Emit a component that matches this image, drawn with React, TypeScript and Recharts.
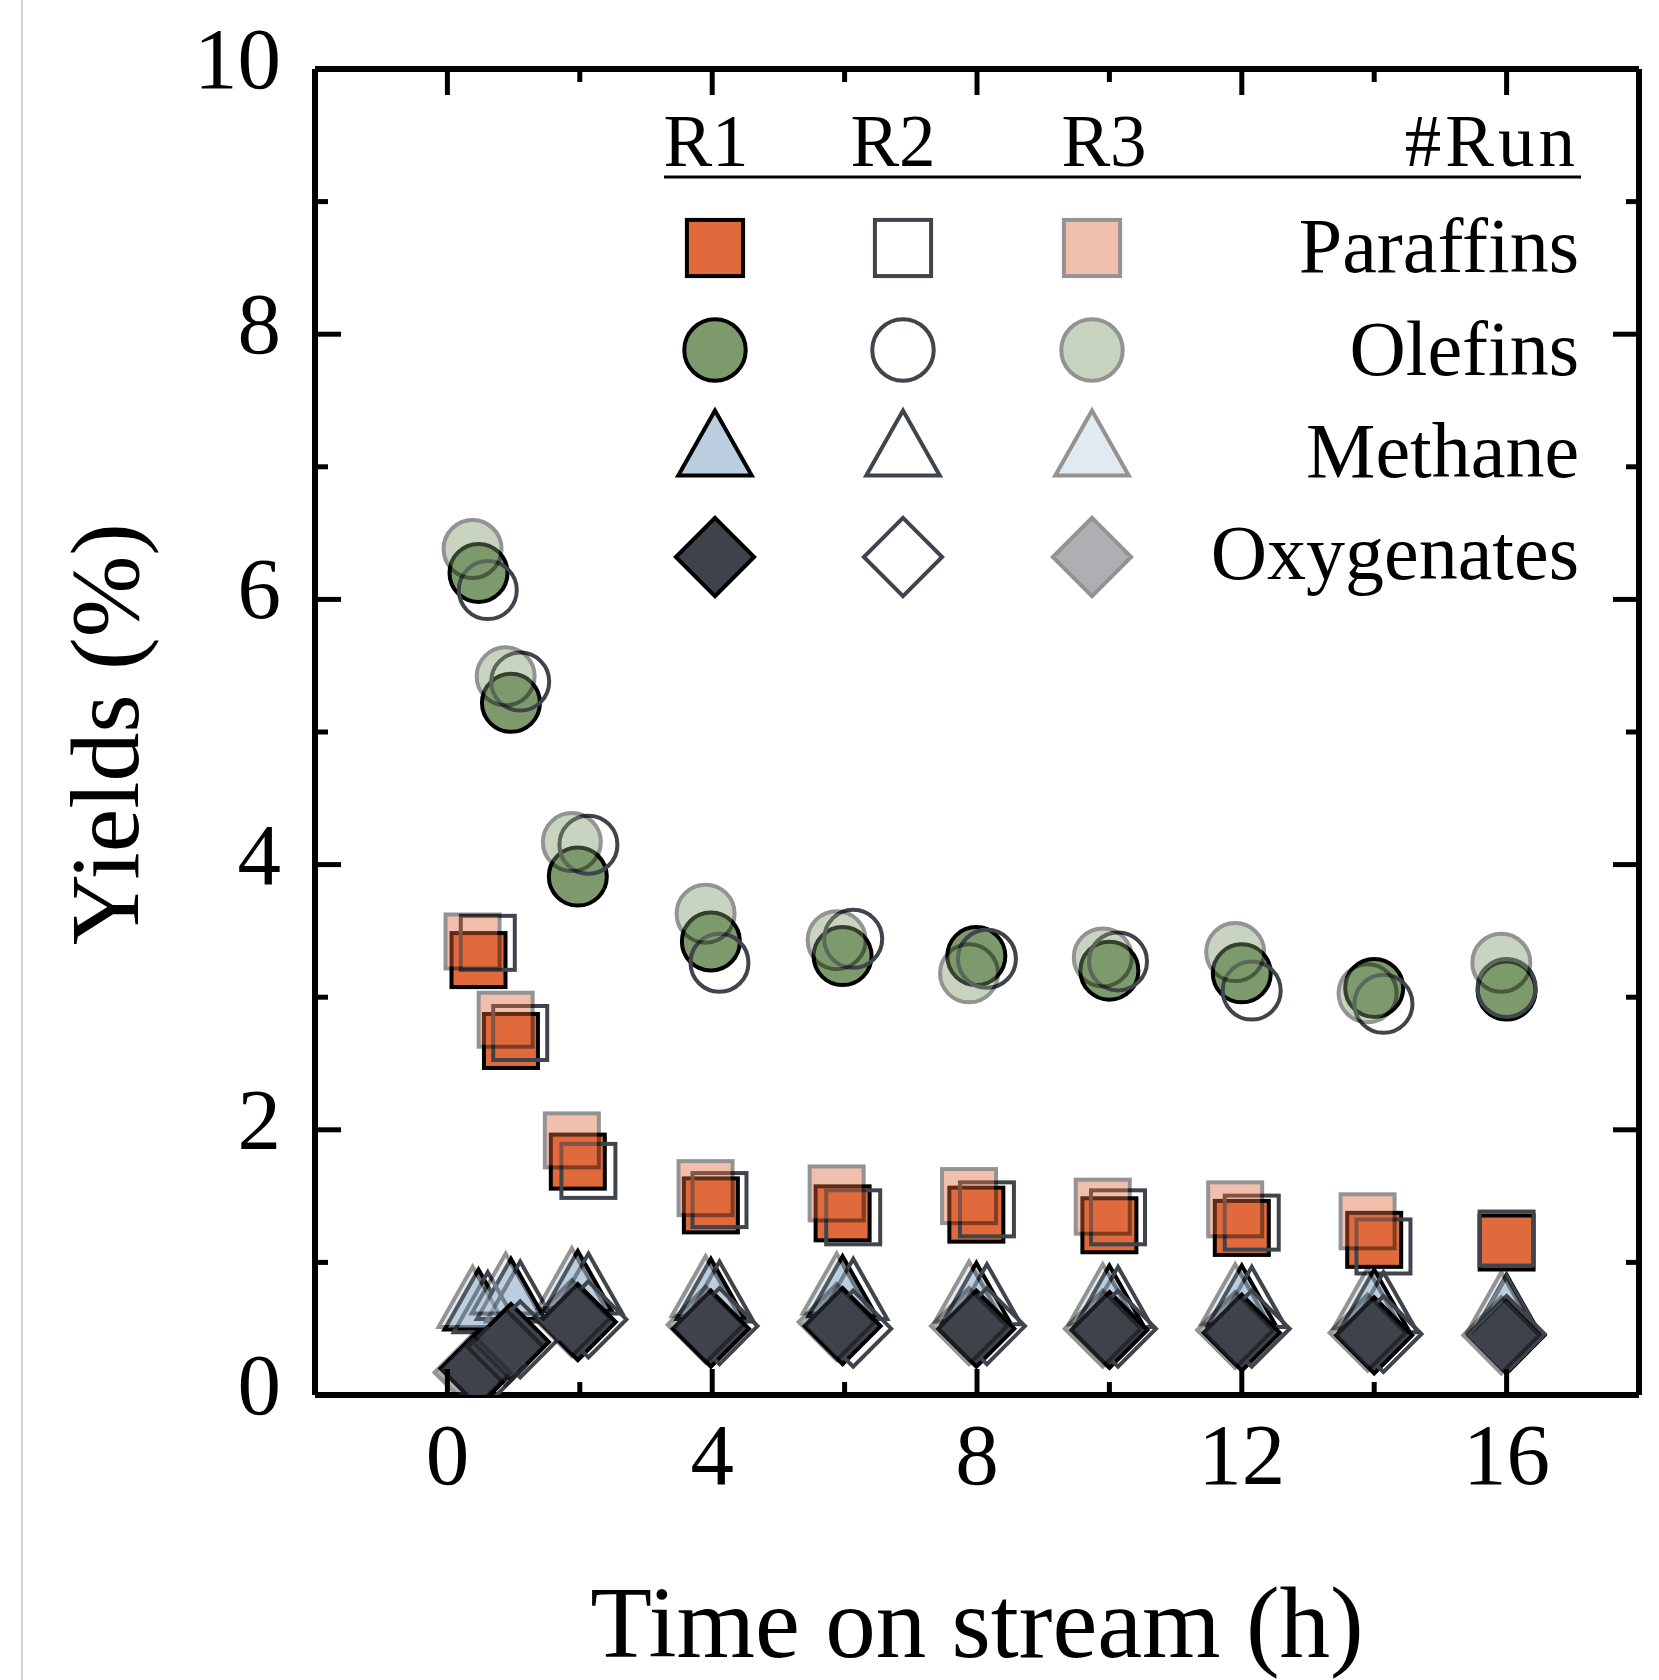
import React from 'react';
import { ScatterChart, Scatter, XAxis, YAxis } from 'recharts';

// ---------- data ----------
const xTicks = [0, 2, 4, 6, 8, 10, 12, 14, 16];
const xMajor = [0, 4, 8, 12, 16];
const yTicks = [0, 1, 2, 3, 4, 5, 6, 7, 8, 9, 10];
const yMajor = [0, 2, 4, 6, 8, 10];

const runs = ['R1', 'R2', 'R3'];
const species = ['Paraffins', 'Olefins', 'Methane', 'Oxygenates'];

const timeR1 = [0.47, 0.96, 1.97, 3.98, 5.97, 7.99, 10.0, 12.0, 14.0, 16.0];
const timeR2 = [0.61, 1.1, 2.13, 4.11, 6.13, 8.15, 10.13, 12.15, 14.14, 16.0];
const timeR3 = [0.38, 0.88, 1.88, 3.9, 5.88, 7.88, 9.9, 11.9, 13.9, 15.92];

const olefinsR1 = [6.2, 5.22, 3.91, 3.42, 3.31, 3.31, 3.2, 3.18, 3.07, 3.05];
const olefinsR2 = [6.07, 5.38, 4.15, 3.26, 3.44, 3.29, 3.27, 3.05, 2.95, 3.07];
const olefinsR3 = [6.38, 5.42, 4.17, 3.63, 3.43, 3.18, 3.3, 3.34, 3.03, 3.26];

const paraffinsR1 = [3.28, 2.67, 1.76, 1.43, 1.37, 1.36, 1.28, 1.26, 1.17, 1.15];
const paraffinsR2 = [3.41, 2.73, 1.69, 1.47, 1.34, 1.4, 1.34, 1.3, 1.12, 1.18];
const paraffinsR3 = [3.42, 2.83, 1.92, 1.56, 1.52, 1.5, 1.42, 1.4, 1.31, null];

const methaneR1 = [0.72, 0.8, 0.86, 0.8, 0.82, 0.77, 0.75, 0.75, 0.72, 0.68];
const methaneR2 = [0.7, 0.78, 0.84, 0.78, 0.8, 0.76, 0.74, 0.74, 0.7, 0.67];
const methaneR3 = [0.74, 0.84, 0.88, 0.82, 0.84, 0.78, 0.76, 0.76, 0.73, 0.7];

const oxygenatesR1 = [0.2, 0.4, 0.55, 0.5, 0.52, 0.5, 0.49, 0.47, 0.45, 0.45];
const oxygenatesR2 = [0.22, 0.42, 0.57, 0.52, 0.5, 0.52, 0.5, 0.5, 0.46, 0.46];
const oxygenatesR3 = [0.17, 0.36, 0.58, 0.53, 0.55, 0.52, 0.5, 0.49, 0.47, 0.45];

// ---------- layout / style ----------
const W = 1659;
const H = 1680;
const PL = 315;
const PT = 69;
const PR = 1639;
const PB = 1395;
const FONT = '"Liberation Serif", "Times New Roman", serif';

const speciesColor: Record<string, string> = {
  Paraffins: '#E06A3C',
  Olefins: '#7D9A6C',
  Methane: '#BACEE0',
  Oxygenates: '#3E434B',
};
const speciesKind: Record<string, string> = {
  Paraffins: 'square',
  Olefins: 'circle',
  Methane: 'triangle',
  Oxygenates: 'diamond',
};
const OPEN_STROKE = '#40454D';
const R3_OPACITY = 0.42;

function runStyle(run: string, sp: string) {
  const c = speciesColor[sp];
  if (run === 'R1') return { fill: c, stroke: '#000', opacity: 1, sw: 4 };
  if (run === 'R2') return { fill: 'none', stroke: OPEN_STROKE, opacity: 1, sw: 4 };
  return { fill: c, stroke: '#000', opacity: R3_OPACITY, sw: 4 };
}

type MarkProps = {
  cx: number;
  cy: number;
  kind: string;
  fill: string;
  stroke: string;
  sw: number;
  opacity: number;
  scale?: number;
};

function Mark({ cx, cy, kind, fill, stroke, sw, opacity, scale = 1 }: MarkProps) {
  if (cx == null || cy == null) return null;
  const common = { fill, stroke, strokeWidth: sw, opacity, strokeLinejoin: 'miter' as const };
  if (kind === 'square') {
    const s = 54 * scale;
    return <rect x={cx - s / 2} y={cy - s / 2} width={s} height={s} {...common} />;
  }
  if (kind === 'circle') {
    const r = 29 * scale;
    return <circle cx={cx} cy={cy} r={r} {...common} />;
  }
  if (kind === 'triangle') {
    const w = 68 * scale;
    const h = 60 * scale;
    const pts = `${cx},${cy - h / 2} ${cx - w / 2},${cy + h / 2} ${cx + w / 2},${cy + h / 2}`;
    return <polygon points={pts} {...common} />;
  }
  const d = 38 * scale;
  const pts = `${cx},${cy - d} ${cx + d},${cy} ${cx},${cy + d} ${cx - d},${cy}`;
  return <polygon points={pts} {...common} />;
}

const timeByRun: Record<string, number[]> = { R1: timeR1, R2: timeR2, R3: timeR3 };
const valuesBy: Record<string, Record<string, (number | null)[]>> = {
  Paraffins: { R1: paraffinsR1, R2: paraffinsR2, R3: paraffinsR3 },
  Olefins: { R1: olefinsR1, R2: olefinsR2, R3: olefinsR3 },
  Methane: { R1: methaneR1, R2: methaneR2, R3: methaneR3 },
  Oxygenates: { R1: oxygenatesR1, R2: oxygenatesR2, R3: oxygenatesR3 },
};

const drawOrder = ['Olefins', 'Paraffins', 'Methane', 'Oxygenates'];

function buildPoints(sp: string, run: string) {
  const t = timeByRun[run];
  const v = valuesBy[sp][run];
  const out: { x: number; y: number }[] = [];
  v.forEach((y, i) => {
    if (y != null) out.push({ x: t[i], y });
  });
  return out;
}

// ---------- ticks ----------
const MAJ = 26;
const MIN = 13;
const TW = 5;

function BottomTick(props: any) {
  const { x, payload } = props;
  const v = payload.value;
  const major = xMajor.includes(v);
  return (
    <g>
      <line x1={x} x2={x} y1={PB} y2={PB - (major ? MAJ : MIN)} stroke="#000" strokeWidth={TW} />
      {major && (
        <text x={x} y={1484} textAnchor="middle" fontFamily={FONT} fontSize={87} fill="#000">
          {v}
        </text>
      )}
    </g>
  );
}
function TopTick(props: any) {
  const { x, payload } = props;
  const major = xMajor.includes(payload.value);
  return <line x1={x} x2={x} y1={PT} y2={PT + (major ? MAJ : MIN)} stroke="#000" strokeWidth={TW} />;
}
function LeftTick(props: any) {
  const { y, payload } = props;
  const v = payload.value;
  const major = yMajor.includes(v);
  return (
    <g>
      <line x1={PL} x2={PL + (major ? MAJ : MIN)} y1={y} y2={y} stroke="#000" strokeWidth={TW} />
      {major && (
        <text x={281} y={y + 19} textAnchor="end" fontFamily={FONT} fontSize={87} fill="#000">
          {v}
        </text>
      )}
    </g>
  );
}
function RightTick(props: any) {
  const { y, payload } = props;
  const major = yMajor.includes(payload.value);
  return <line x1={PR} x2={PR - (major ? MAJ : MIN)} y1={y} y2={y} stroke="#000" strokeWidth={TW} />;
}

function XTitle() {
  return (
    <text x={977} y={1657} textAnchor="middle" fontFamily={FONT} fontSize={101} fill="#000">
      Time on stream (h)
    </text>
  );
}
function YTitle() {
  return (
    <text
      x={138}
      y={734}
      textAnchor="middle"
      fontFamily={FONT}
      fontSize={98}
      fill="#000"
      transform="rotate(-90, 138, 734)"
    >
      Yields (%)
    </text>
  );
}

// ---------- legend table ----------
const legendColX: Record<string, number> = { R1: 715, R2: 903, R3: 1092 };
const legendHeadX: Record<string, number> = { R1: 706, R2: 893, R3: 1104 };
const legendRowY: Record<string, number> = { Paraffins: 248, Olefins: 350, Methane: 443, Oxygenates: 557 };
const legendTextY: Record<string, number> = { Paraffins: 272, Olefins: 375, Methane: 477, Oxygenates: 579 };
const legendScale: Record<string, number> = { Paraffins: 1.04, Olefins: 1.06, Methane: 1.08, Oxygenates: 1.03 };

function LegendTable() {
  return (
    <svg width={W} height={H} style={{ position: 'absolute', left: 0, top: 0, pointerEvents: 'none' }}>
      {runs.map((r) => (
        <text key={r} x={legendHeadX[r]} y={166} textAnchor="middle" fontFamily={FONT} fontSize={73} fill="#000">
          {r}
        </text>
      ))}
      <text x={1579} y={166} textAnchor="end" fontFamily={FONT} fontSize={73} fill="#000" letterSpacing={4}>
        #Run
      </text>
      <line x1={664} x2={1581} y1={177} y2={177} stroke="#000" strokeWidth={3} />
      {species.map((sp) => (
        <g key={sp}>
          {runs.map((r) => {
            const st = runStyle(r, sp);
            return (
              <Mark
                key={r}
                cx={legendColX[r]}
                cy={legendRowY[sp]}
                kind={speciesKind[sp]}
                fill={st.fill}
                stroke={st.stroke}
                sw={st.sw}
                opacity={st.opacity}
                scale={legendScale[sp]}
              />
            );
          })}
          <text x={1579} y={legendTextY[sp]} textAnchor="end" fontFamily={FONT} fontSize={78} fill="#000">
            {sp}
          </text>
        </g>
      ))}
    </svg>
  );
}

export default function App() {
  return (
    <div style={{ position: 'absolute', left: 0, top: 0, width: W, height: H, background: '#fff', overflow: 'hidden' }}>
      <div style={{ position: 'absolute', left: 21, top: 0, width: 2, height: H, background: '#d2d2d2' }} />
      <ScatterChart width={W} height={H} margin={{ top: 68, right: 19, bottom: 284, left: 0 }}>
        <XAxis
          xAxisId="b"
          type="number"
          dataKey="x"
          domain={[-2, 18]}
          ticks={xTicks}
          interval={0}
          height={1}
          tickLine={false}
          axisLine={{ stroke: '#000', strokeWidth: 6 }}
          tick={<BottomTick />}
          label={<XTitle />}
          allowDataOverflow
        />
        <XAxis
          xAxisId="t"
          orientation="top"
          type="number"
          dataKey="x"
          domain={[-2, 18]}
          ticks={xTicks}
          interval={0}
          height={1}
          tickLine={false}
          axisLine={{ stroke: '#000', strokeWidth: 6 }}
          tick={<TopTick />}
          allowDataOverflow
        />
        <YAxis
          yAxisId="l"
          type="number"
          dataKey="y"
          domain={[0, 10]}
          ticks={yTicks}
          interval={0}
          width={315}
          tickLine={false}
          axisLine={{ stroke: '#000', strokeWidth: 6 }}
          tick={<LeftTick />}
          label={<YTitle />}
          allowDataOverflow
        />
        <YAxis
          yAxisId="r"
          orientation="right"
          type="number"
          dataKey="y"
          domain={[0, 10]}
          ticks={yTicks}
          interval={0}
          width={1}
          tickLine={false}
          axisLine={{ stroke: '#000', strokeWidth: 6 }}
          tick={<RightTick />}
          allowDataOverflow
        />
        {drawOrder.map((sp) =>
          runs.map((r) => {
            const st = runStyle(r, sp);
            return (
              <Scatter
                key={`${sp}-${r}`}
                name={`${sp} ${r}`}
                data={buildPoints(sp, r)}
                xAxisId="b"
                yAxisId="l"
                isAnimationActive={false}
                shape={(p: any) => (
                  <Mark
                    cx={p.cx}
                    cy={p.cy}
                    kind={speciesKind[sp]}
                    fill={st.fill}
                    stroke={st.stroke}
                    sw={st.sw}
                    opacity={st.opacity}
                  />
                )}
              />
            );
          })
        )}
      </ScatterChart>
      <LegendTable />
    </div>
  );
}
